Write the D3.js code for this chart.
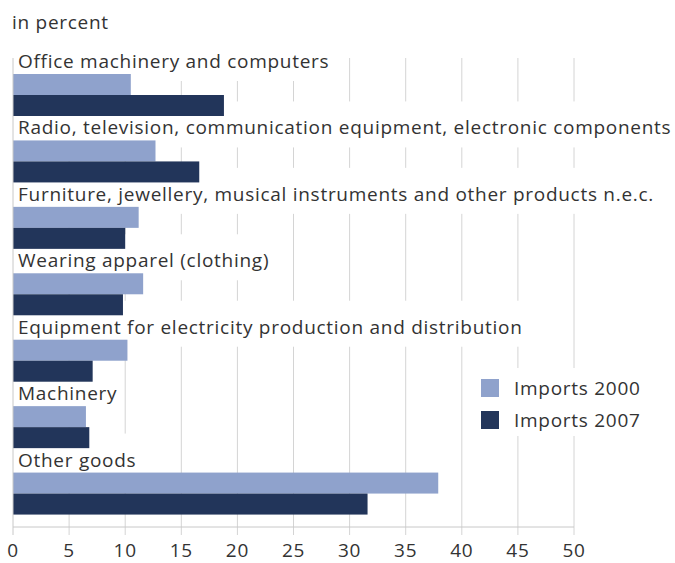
<!DOCTYPE html>
<html>
<head>
<meta charset="utf-8">
<script src="https://cdn.jsdelivr.net/npm/d3@7"></script>
<style>
  body { margin: 0; background: #fff; }
  svg text { font-family: "Open Sans", sans-serif; fill: #333; font-size: 19px; letter-spacing: 0.72px; }
</style>
</head>
<body>
<div id="chart"></div>
<script>
'use strict';

var categories = [
  'Office machinery and computers',
  'Radio, television, communication equipment, electronic components',
  'Furniture, jewellery, musical instruments and other products n.e.c.',
  'Wearing apparel (clothing)',
  'Equipment for electricity production and distribution',
  'Machinery',
  'Other goods'
];
var series = ['Imports 2000', 'Imports 2007'];
var imports2000 = [10.5, 12.7, 11.2, 11.6, 10.2, 6.5, 37.9];
var imports2007 = [18.8, 16.6, 10.0, 9.8, 7.1, 6.8, 31.6];
var xTicks = [0, 5, 10, 15, 20, 25, 30, 35, 40, 45, 50];
var colors = ['#8fa2cc', '#22355a'];

var width = 675, height = 563;

var svg = d3.select('#chart').append('svg')
  .attr('width', width)
  .attr('height', height);

var x = d3.scaleLinear().domain([0, 50]).range([13, 574]);
var y = d3.scaleBand().domain(categories).range([52, 517]);
var ySub = d3.scaleBand().domain(series).range([22, 64]);
var plotTop = 58, axisY = 527;

// unit note
svg.append('text')
  .attr('x', 12).attr('y', 29)
  .text('in percent');

// gridlines + ticks
svg.append('g').selectAll('line')
  .data(xTicks.slice(1))
  .join('line')
  .attr('x1', function (d) { return x(d); })
  .attr('x2', function (d) { return x(d); })
  .attr('y1', plotTop)
  .attr('y2', axisY + 8)
  .attr('stroke', '#d4d4d4')
  .attr('stroke-width', 1);

// category labels, white box behind each hides the gridlines
var labels = svg.append('g').selectAll('g')
  .data(categories)
  .join('g');
labels.append('rect').attr('fill', '#fff');
labels.append('text')
  .attr('x', 18)
  .attr('y', function (d) { return y(d) + 16; })
  .text(function (d) { return d; });
labels.each(function (d) {
  var g = d3.select(this);
  var w = g.select('text').node().getComputedTextLength();
  g.select('rect')
    .attr('x', 16)
    .attr('y', y(d) - 17)
    .attr('width', w + 6)
    .attr('height', 46);
});

// bars
var rows = categories.map(function (c, i) {
  return { cat: c, values: [imports2000[i], imports2007[i]] };
});
var barG = svg.append('g');
rows.forEach(function (r) {
  series.forEach(function (s, j) {
    barG.append('rect')
      .attr('x', x(0))
      .attr('y', y(r.cat) + ySub(s))
      .attr('width', x(r.values[j]) - x(0))
      .attr('height', ySub.bandwidth())
      .attr('fill', colors[j]);
  });
});

// axis lines
svg.append('line')
  .attr('x1', x(0)).attr('x2', x(0))
  .attr('y1', plotTop).attr('y2', axisY + 8)
  .attr('stroke', '#c8c8c8');
svg.append('line')
  .attr('x1', x(0)).attr('x2', x(50))
  .attr('y1', axisY).attr('y2', axisY)
  .attr('stroke', '#c8c8c8');

// tick labels
svg.append('g').selectAll('text')
  .data(xTicks)
  .join('text')
  .attr('x', function (d) { return x(d); })
  .attr('y', 557)
  .attr('text-anchor', 'middle')
  .text(function (d) { return d; });

// legend
var legend = svg.append('g');
legend.append('rect')
  .attr('x', 470).attr('y', 368)
  .attr('width', 200).attr('height', 68)
  .attr('fill', '#fff');
series.forEach(function (s, i) {
  legend.append('rect')
    .attr('x', 481).attr('y', 379 + i * 32)
    .attr('width', 18).attr('height', 18)
    .attr('fill', colors[i]);
  legend.append('text')
    .attr('x', 514).attr('y', 395 + i * 32)
    .text(s);
});
</script>
</body>
</html>
